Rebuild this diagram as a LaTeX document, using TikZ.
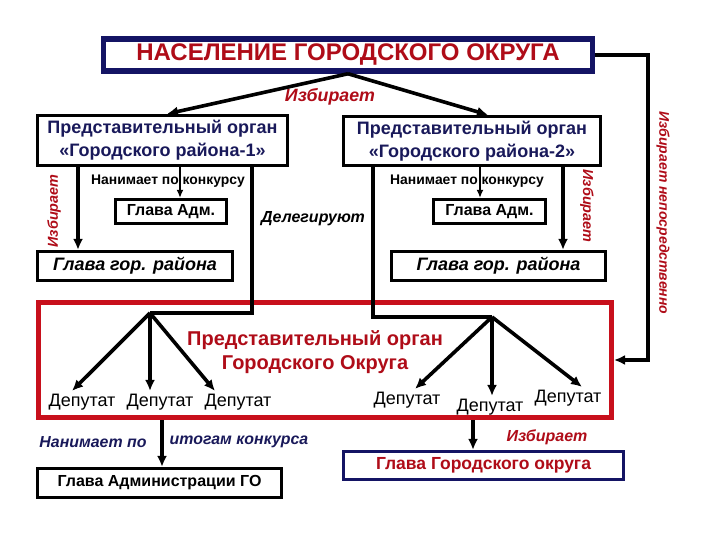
\documentclass[tikz,border=0pt]{standalone}
\usepackage{fontspec}
\setmainfont{Liberation Sans}
\usetikzlibrary{arrows.meta}
\definecolor{navy}{RGB}{20,20,100}
\definecolor{tnavy}{RGB}{25,25,90}
\definecolor{dred}{RGB}{175,12,24}
\definecolor{bred}{RGB}{200,16,28}
\newcommand{\fz}[2]{\fontsize{#1}{#2}\selectfont}
\begin{document}
\begin{tikzpicture}[x=1pt,y=-1pt,
  box/.style={draw, line width=3.2pt, inner sep=0pt, align=center},
  arr/.style={line width=3.6pt, -{Latex[length=11pt,width=10pt]}},
  thinarr/.style={line width=2.2pt, -{Latex[length=8pt,width=7pt]}},
  ln/.style={line width=3.6pt},
  lbl/.style={inner sep=0pt, font=\fz{14.4}{16}\bfseries\itshape, text=dred},
  dep/.style={inner sep=0pt, outer sep=3pt, font=\fz{18}{20}},
]
\useasboundingbox[fill=white] (0,0) rectangle (720,540);

% boxes
\node[box, draw=navy, line width=5.5pt, minimum width=489pt, minimum height=32pt,
      font=\fz{24}{26}\bfseries, text=dred] (top) at (348,55) {НАСЕЛЕНИЕ ГОРОДСКОГО ОКРУГА};
\node[box, minimum width=250pt, minimum height=50pt, text=tnavy,
      font=\fz{18}{23}\bfseries] (r1) at (162.5,140.5) {Представительный орган\\«Городского района-1»};
\node[box, minimum width=257pt, minimum height=49pt, text=tnavy,
      font=\fz{18}{23}\bfseries] (r2) at (472,141) {Представительный орган\\«Городского района-2»};
\node[box, minimum width=111pt, minimum height=24pt, font=\fz{16}{18}\bfseries] (ga1) at (171,211.5) {Глава Адм.};
\node[box, minimum width=112pt, minimum height=24pt, font=\fz{16}{18}\bfseries] (ga2) at (489.5,211.5) {Глава Адм.};
\node[box, minimum width=195pt, minimum height=29pt, font=\fz{18}{20}\bfseries\itshape] (gr1) at (135,266) {Глава гор. района};
\node[box, minimum width=214pt, minimum height=29pt, font=\fz{18}{20}\bfseries\itshape] (gr2) at (498.5,266) {Глава гор. района};
\node[draw=bred, line width=5pt, minimum width=573pt, minimum height=115pt, inner sep=0pt] (red) at (325,360) {};
\node[inner sep=0pt, align=center, text=dred, font=\fz{20}{24}\bfseries] (rtxt) at (315,352) {Представительный орган\\Городского Округа};
\node[box, minimum width=244pt, minimum height=29pt, font=\fz{16}{18}\bfseries] (gag) at (159.5,483) {Глава Администрации ГО};
\node[box, draw=navy, minimum width=280pt, minimum height=28pt, text=dred, font=\fz{17.5}{19}\bfseries] (ggo) at (483.5,465.5) {Глава Городского округа};

% deputies
\node[dep] (d1) at (82,402) {Депутат};
\node[dep] (d2) at (160,402) {Депутат};
\node[dep] (d3) at (238,402) {Депутат};
\node[dep] (d4) at (407,400) {Депутат};
\node[dep] (d5) at (490,407) {Депутат};
\node[dep] (d6) at (568,398) {Депутат};

% labels
\node[lbl, font=\fz{17.8}{19}\bfseries\itshape] (l0) at (330,97) {Избирает};
\node[lbl, rotate=90] (l1) at (54,211) {Избирает};
\node[lbl, rotate=-90] (l2) at (587,206) {Избирает};
\node[lbl, rotate=-90, font=\fz{14}{16}\bfseries\itshape] (l3) at (663,213) {Избирает непосредственно};
\node[inner sep=0pt, font=\fz{13.9}{15}\bfseries] (n1) at (168,181) {Нанимает по конкурсу};
\node[inner sep=0pt, font=\fz{13.9}{15}\bfseries] (n2) at (467,181) {Нанимает по конкурсу};
\node[inner sep=0pt, font=\fz{16}{18}\bfseries\itshape] (dl) at (313,219) {Делегируют};
\node[inner sep=0pt, text=tnavy, font=\fz{15.9}{17}\bfseries\itshape] (b1) at (93,442) {Нанимает по};
\node[inner sep=0pt, text=tnavy, font=\fz{15.9}{17}\bfseries\itshape] (b2) at (239,442) {итогам конкурса};
\node[lbl, font=\fz{16}{17}\bfseries\itshape] (b3) at (547,437) {Избирает};

% columns and junctions
\coordinate (xa) at (78,0);
\coordinate (xb) at (180,0);
\coordinate (xc) at (252,0);
\coordinate (xd) at (373,0);
\coordinate (xe) at (480,0);
\coordinate (xf) at (563,0);
\coordinate (xg) at (648,0);
\coordinate (xh) at (162,0);
\coordinate (xi) at (473,0);
\coordinate (ap1) at (150,313);
\coordinate (ap2) at (492,317);

% connectors
\draw[arr] (top.south) -- ([xshift=4.5pt]r1.north);
\draw[arr] (top.south) -- ([xshift=16pt]r2.north);
\draw[arr] (top.east) -- (top.east -| xg) |- (red.east);
\draw[arr] (r1.south -| xa) -- (gr1.north -| xa);
\draw[thinarr] (r1.south -| xb) -- (ga1.north -| xb);
\draw[ln] (r1.south -| xc) |- (ap1);
\draw[thinarr] (r2.south -| xe) -- (ga2.north -| xe);
\draw[arr] (r2.south -| xf) -- (gr2.north -| xf);
\draw[ln] (r2.south -| xd) |- (ap2);
\draw[arr] (ap1) -- ([xshift=-10pt]d1.north);
\draw[arr] (ap1) -- ([xshift=-10pt]d2.north);
\draw[arr] (ap1) -- ([xshift=-23pt]d3.north);
\draw[arr] (ap2) -- ([xshift=8pt]d4.north);
\draw[arr] (ap2) -- ([xshift=2pt]d5.north);
\draw[arr] (ap2) -- ([xshift=14pt]d6.north);
\draw[arr] (red.south -| xh) -- (gag.north -| xh);
\draw[arr] (red.south -| xi) -- (ggo.north -| xi);
\end{tikzpicture}
\end{document}
